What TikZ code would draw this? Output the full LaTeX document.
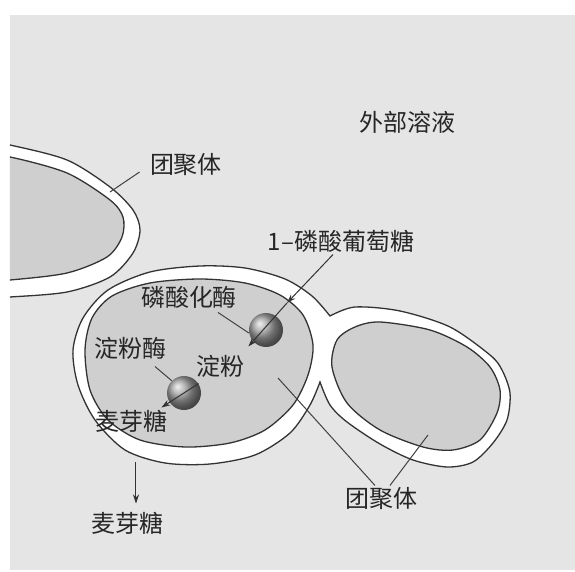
\documentclass[tikz,border=0pt]{standalone}
\usepackage{fontspec}
\usetikzlibrary{arrows.meta}
\newfontfamily\cjk{Noto Sans CJK SC}
\definecolor{bg}{gray}{0.9}
\definecolor{core}{gray}{0.81}
\tikzstyle{tag}=[font=\cjk\fontsize{12}{12}\selectfont,text=black!85,inner sep=1pt]
\tikzstyle{wall}=[draw=black!80,line width=0.65pt,fill=white]
\tikzstyle{inside}=[draw=black!80,line width=0.65pt,fill=core]
\tikzstyle{lead}=[black!75,line width=0.5pt]
\tikzstyle{arrow}=[black!80,line width=0.5pt,-{Stealth[length=4.5pt,width=3pt]}]
\tikzstyle{enzyme}=[circle,minimum size=17pt,inner sep=0,shading=ball,ball color=gray!75]

\begin{document}
\begin{tikzpicture}[x=0.5pt,y=-0.5pt]
\useasboundingbox (0,0) rectangle (575,572);
\fill[bg] (10,15) rectangle (575,570);

\begin{scope}
\clip (10,15) rectangle (575,570);
% coacervate cut by the left edge
\draw[wall] plot[smooth] coordinates {(-20,140) (10,145) (67,160) (110,187) (133,210) (140,230) (133,253) (110,277) (67,292) (10,297) (-20,298)} -- cycle;
\draw[inside] plot[smooth] coordinates {(-20,155) (10,157) (67,173) (110,200) (123,217) (122,237) (107,257) (67,273) (10,280) (-20,281)} -- cycle;

% two coacervates sharing one wall
\draw[wall] plot[smooth] coordinates {(330,316) (312,296) (285,279) (245,268) (200,266) (150,272) (108,290) (83,318) (73,350) (78,385) (95,420) (125,450) (165,463) (210,464) (255,455) (290,433) (310,405) (320,382)}
  -- plot[smooth] coordinates {(320,382) (330,405) (347,422) (380,444) (413,460) (447,467) (473,462) (493,443) (507,420) (510,393) (502,370) (490,355) (450,327) (400,311) (355,307) (330,316)} -- cycle;
\draw[inside] plot[smooth cycle] coordinates {(85,350) (92,318) (112,296) (150,283) (200,279) (245,283) (280,295) (303,315) (313,345) (308,375) (293,405) (265,430) (230,443) (185,447) (140,440) (108,420) (90,390)};
\draw[inside] plot[smooth cycle] coordinates {(380,322) (430,330) (467,347) (490,367) (500,390) (497,413) (480,440) (453,450) (423,447) (380,430) (347,403) (332,367) (337,340) (355,327)};
\end{scope}

% texts
\node[tag] (outside) at (408,122) {外部溶液};
\node[tag] (aggA) at (186,165) {团聚体};
\node[tag] (g1p) at (341,241) {1–磷酸葡萄糖};
\node[tag] (phos) at (189,297) {磷酸化酶};
\node[tag] (amyl) at (131,348) {淀粉酶};
\node[tag] (starch) at (221,366) {淀粉};
\node[tag] (maltIn) at (132,421) {麦芽糖};
\node[tag] (maltOut) at (127,523) {麦芽糖};
\node[tag] (aggB) at (382,499) {团聚体};

% enzymes
\node[enzyme] (enzA) at (266,330) {};
\node[enzyme] (enzB) at (184,393) {};

% reactions
\coordinate (inA) at (287,303);
\draw[arrow] ([shift={(-8,0)}]g1p.south) -- (inA);
\draw[arrow] (inA) -- ([shift={(1,-6)}]starch.north east);
\draw[arrow] ([shift={(4,4)}]starch.south west) -- ([shift={(-9,0)}]maltIn.north east);
\coordinate (exit) at (136,462);
\draw[arrow] (exit) -- ([shift={(0,-6)}]exit |- maltOut.north);

% leaders
\coordinate (wallA) at (110,192);
\coordinate (coreA) at (278,378);
\coordinate (coreB) at (428,435);
\draw[lead] ([shift={(-8,7)}]aggA.west) -- (wallA);
\draw[lead] ([shift={(29,2)}]phos.south) -- (enzA.190);
\draw[lead] ([shift={(24,5)}]amyl.south) -- (enzB.135);
\draw[lead] ([shift={(-7,0)}]aggB.north) -- (coreA);
\draw[lead] ([shift={(8,0)}]aggB.north) -- (coreB);
\end{tikzpicture}
\end{document}
